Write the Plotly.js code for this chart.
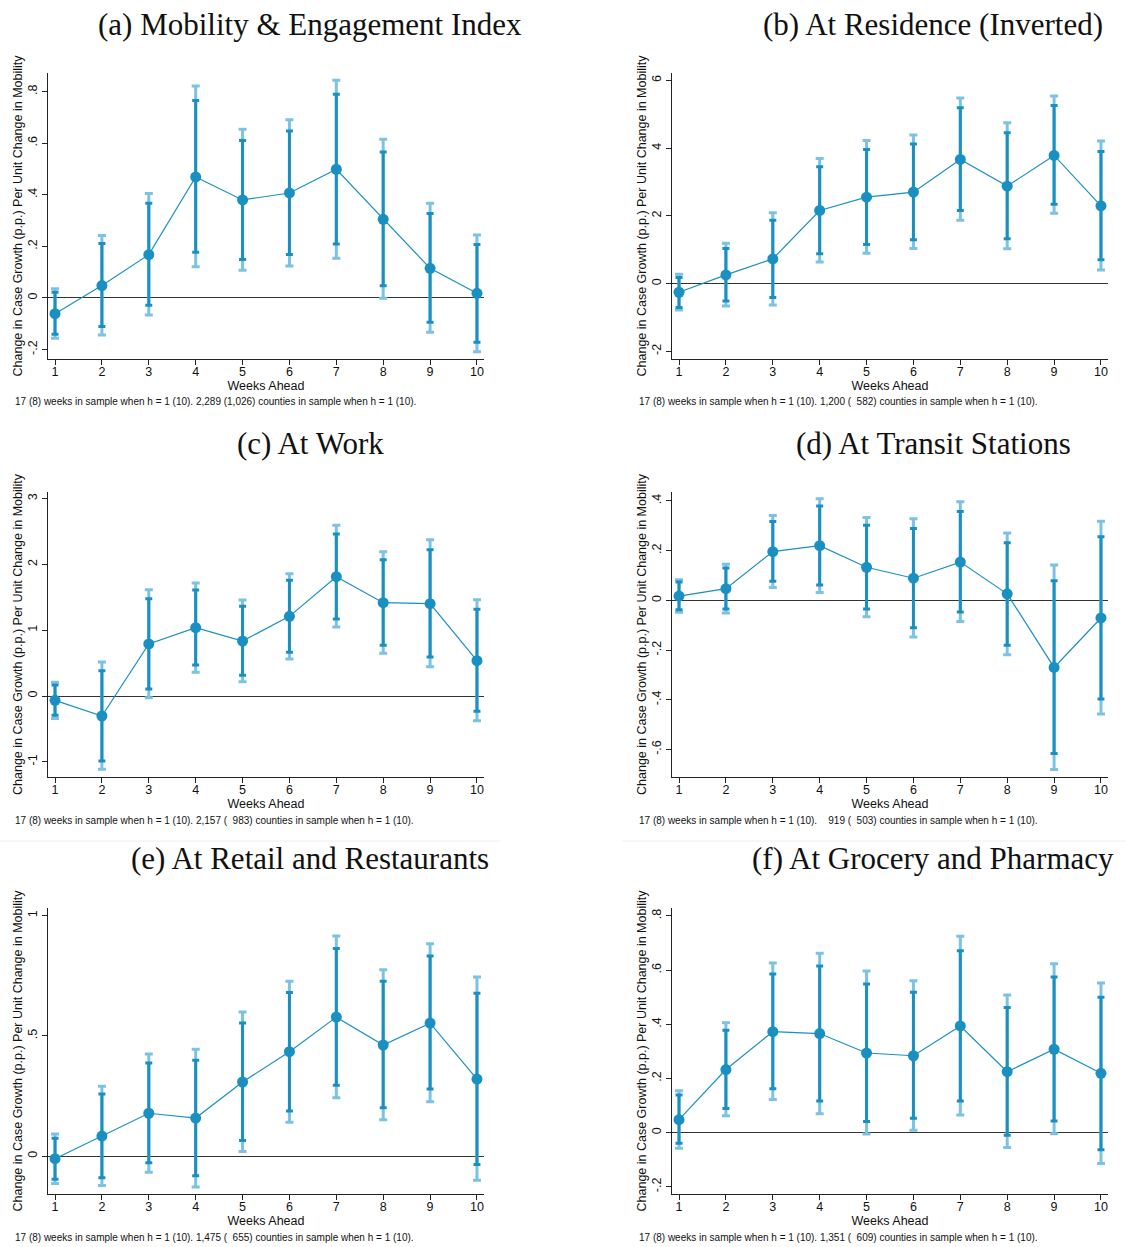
<!DOCTYPE html>
<html>
<head>
<meta charset="utf-8">
<script src="https://cdn.plot.ly/plotly-3.0.1.min.js"></script>
<style>
html,body{margin:0;padding:0;background:#fff;}
#chart{width:1126px;height:1247px;}
</style>
</head>
<body>
<div id="chart"></div>
<script>
// ---------- DATA ----------
const weeks = [1, 2, 3, 4, 5, 6, 7, 8, 9, 10];

// (a) Mobility & Engagement Index
const aCoef = [-0.061, 0.048, 0.168, 0.469, 0.380, 0.407, 0.499, 0.305, 0.115, 0.018];
const aLo90 = [-0.141, -0.111, -0.028, 0.177, 0.149, 0.169, 0.209, 0.047, -0.094, -0.172];
const aHi90 = [0.022, 0.211, 0.367, 0.765, 0.610, 0.647, 0.790, 0.566, 0.327, 0.207];
const aLo95 = [-0.156, -0.143, -0.066, 0.121, 0.107, 0.124, 0.154, -0.001, -0.133, -0.208];
const aHi95 = [0.036, 0.242, 0.405, 0.822, 0.654, 0.691, 0.844, 0.615, 0.367, 0.244];

// (b) At Residence (Inverted)
const bCoef = [-0.256, 0.256, 0.729, 2.158, 2.552, 2.700, 3.665, 2.877, 3.783, 2.296];
const bLo90 = [-0.709, -0.512, -0.414, 0.877, 1.153, 1.291, 2.158, 1.320, 2.345, 0.700];
const bHi90 = [0.177, 1.034, 1.872, 3.448, 3.961, 4.118, 5.192, 4.453, 5.261, 3.901];
const bLo95 = [-0.778, -0.660, -0.631, 0.640, 0.897, 1.034, 1.872, 1.025, 2.079, 0.404];
const bHi95 = [0.276, 1.192, 2.089, 3.695, 4.227, 4.384, 5.478, 4.749, 5.537, 4.207];

// (c) At Work
const cCoef = [-0.066, -0.304, 0.791, 1.039, 0.836, 1.211, 1.814, 1.419, 1.404, 0.537];
const cLo90 = [-0.294, -0.988, 0.106, 0.471, 0.314, 0.664, 1.171, 0.770, 0.593, -0.233];
const cHi90 = [0.167, 0.385, 1.480, 1.611, 1.363, 1.758, 2.463, 2.073, 2.225, 1.318];
const cLo95 = [-0.340, -1.115, -0.025, 0.360, 0.218, 0.563, 1.049, 0.649, 0.446, -0.375];
const cHi95 = [0.208, 0.517, 1.617, 1.718, 1.459, 1.860, 2.595, 2.194, 2.377, 1.465];

// (d) At Transit Stations
const dCoef = [0.017, 0.047, 0.196, 0.220, 0.133, 0.089, 0.154, 0.026, -0.270, -0.071];
const dLo90 = [-0.038, -0.035, 0.077, 0.062, -0.035, -0.110, -0.047, -0.181, -0.616, -0.397];
const dHi90 = [0.074, 0.130, 0.317, 0.380, 0.302, 0.289, 0.358, 0.232, 0.079, 0.256];
const dLo95 = [-0.048, -0.051, 0.052, 0.032, -0.066, -0.148, -0.085, -0.219, -0.681, -0.457];
const dHi95 = [0.083, 0.145, 0.341, 0.409, 0.333, 0.328, 0.397, 0.271, 0.142, 0.318];

// (e) At Retail and Restaurants
const eCoef = [-0.011, 0.083, 0.178, 0.158, 0.308, 0.434, 0.578, 0.462, 0.553, 0.320];
const eLo90 = [-0.097, -0.090, -0.028, -0.082, 0.065, 0.187, 0.294, 0.201, 0.279, -0.035];
const eHi90 = [0.074, 0.258, 0.387, 0.398, 0.553, 0.680, 0.863, 0.727, 0.832, 0.677];
const eLo95 = [-0.114, -0.123, -0.067, -0.129, 0.019, 0.141, 0.243, 0.151, 0.226, -0.101];
const eHi95 = [0.092, 0.290, 0.424, 0.444, 0.599, 0.727, 0.915, 0.775, 0.883, 0.745];

// (f) At Grocery and Pharmacy
const fCoef = [0.048, 0.233, 0.373, 0.366, 0.294, 0.284, 0.394, 0.225, 0.308, 0.219];
const fLo90 = [-0.039, 0.089, 0.162, 0.117, 0.041, 0.053, 0.117, -0.010, 0.043, -0.063];
const fHi90 = [0.139, 0.378, 0.586, 0.615, 0.549, 0.518, 0.672, 0.462, 0.575, 0.500];
const fLo95 = [-0.058, 0.062, 0.122, 0.070, -0.005, 0.009, 0.065, -0.055, -0.004, -0.114];
const fHi95 = [0.155, 0.406, 0.626, 0.662, 0.597, 0.561, 0.725, 0.508, 0.624, 0.553];

// Tick labels
const xTickVals = weeks;
const xTickText = ['1', '2', '3', '4', '5', '6', '7', '8', '9', '10'];
const aYTickVals = [-0.2, 0, 0.2, 0.4, 0.6, 0.8];
const aYTickText = ['-.2', '0', '.2', '.4', '.6', '.8'];
const bYTickVals = [-2, 0, 2, 4, 6];
const bYTickText = ['-2', '0', '2', '4', '6'];
const cYTickVals = [-1, 0, 1, 2, 3];
const cYTickText = ['-1', '0', '1', '2', '3'];
const dYTickVals = [-0.6, -0.4, -0.2, 0, 0.2, 0.4];
const dYTickText = ['-.6', '-.4', '-.2', '0', '.2', '.4'];
const eYTickVals = [0, 0.5, 1];
const eYTickText = ['0', '.5', '1'];
const fYTickVals = [-0.2, 0, 0.2, 0.4, 0.6, 0.8];
const fYTickText = ['-.2', '0', '.2', '.4', '.6', '.8'];

// Text
const panelTitles = [
  '(a) Mobility & Engagement Index',
  '(b) At Residence (Inverted)',
  '(c) At Work',
  '(d) At Transit Stations',
  '(e) At Retail and Restaurants',
  '(f) At Grocery and Pharmacy'
];
const notes = [
  '17 (8) weeks in sample when h = 1 (10). 2,289 (1,026) counties in sample when h = 1 (10).',
  '17 (8) weeks in sample when h = 1 (10). 1,200 (\u00a0\u00a0582) counties in sample when h = 1 (10).',
  '17 (8) weeks in sample when h = 1 (10). 2,157 (\u00a0\u00a0983) counties in sample when h = 1 (10).',
  '17 (8) weeks in sample when h = 1 (10). \u00a0\u00a0\u00a0919 (\u00a0\u00a0503) counties in sample when h = 1 (10).',
  '17 (8) weeks in sample when h = 1 (10). 1,475 (\u00a0\u00a0655) counties in sample when h = 1 (10).',
  '17 (8) weeks in sample when h = 1 (10). 1,351 (\u00a0\u00a0609) counties in sample when h = 1 (10).'
];
const xTitle = 'Weeks Ahead';
const yTitle = 'Change in Case Growth (p.p.) Per Unit Change in Mobility';

// ---------- BUILD ----------
const W = 1126, H = 1247;
const MAIN = '#1a90c2';
const LIGHT = '#7cc2e1';
const sans = '"Liberation Sans", Arial, sans-serif';
const serif = '"Liberation Serif", "Times New Roman", serif';

const series = [
  {coef: aCoef, lo90: aLo90, hi90: aHi90, lo95: aLo95, hi95: aHi95, tv: aYTickVals, tt: aYTickText, range: [-0.2365, 0.872]},
  {coef: bCoef, lo90: bLo90, hi90: bHi90, lo95: bLo95, hi95: bHi95, tv: bYTickVals, tt: bYTickText, range: [-2.227, 6.217]},
  {coef: cCoef, lo90: cLo90, hi90: cHi90, lo95: cLo95, hi95: cHi95, tv: cYTickVals, tt: cYTickText, range: [-1.231, 3.101]},
  {coef: dCoef, lo90: dLo90, hi90: dHi90, lo95: dLo95, hi95: dHi95, tv: dYTickVals, tt: dYTickText, range: [-0.711, 0.436]},
  {coef: eCoef, lo90: eLo90, hi90: eHi90, lo95: eLo95, hi95: eHi95, tv: eYTickVals, tt: eYTickText, range: [-0.158, 1.032]},
  {coef: fCoef, lo90: fLo90, hi90: fHi90, lo95: fLo95, hi95: fHi95, tv: fYTickVals, tt: fYTickText, range: [-0.2265, 0.8295]}
];

const colsPx = [[48, 484], [672, 1108]];
const rowsPx = [[73, 359], [492, 777], [908, 1194]];
const titleCx = [310, 933];
const noteX = [13, 637];

const traces = [];
const layout = {
  width: W, height: H,
  margin: {l: 0, r: 0, t: 0, b: 0, pad: 0},
  paper_bgcolor: '#ffffff',
  plot_bgcolor: '#ffffff',
  showlegend: false,
  hovermode: false,
  annotations: [],
  shapes: [
    {type: 'line', xref: 'paper', yref: 'paper', x0: 0, x1: 500 / W, y0: 1 - 841 / H, y1: 1 - 841 / H, line: {color: '#eeeeee', width: 1}},
    {type: 'line', xref: 'paper', yref: 'paper', x0: 622 / W, x1: 1, y0: 1 - 841 / H, y1: 1 - 841 / H, line: {color: '#eeeeee', width: 1}}
  ]
};

series.forEach((s, i) => {
  const col = i % 2, row = Math.floor(i / 2);
  const n = i + 1;
  const xa = n === 1 ? 'x' : 'x' + n;
  const ya = n === 1 ? 'y' : 'y' + n;
  const xk = n === 1 ? 'xaxis' : 'xaxis' + n;
  const yk = n === 1 ? 'yaxis' : 'yaxis' + n;
  const [x0, x1] = colsPx[col];
  const [y0, y1] = rowsPx[row];

  const up95 = s.hi95.map((v, k) => v - s.coef[k]);
  const dn95 = s.lo95.map((v, k) => s.coef[k] - v);
  const up90 = s.hi90.map((v, k) => v - s.coef[k]);
  const dn90 = s.lo90.map((v, k) => s.coef[k] - v);

  traces.push({
    type: 'scatter', mode: 'markers', x: weeks, y: s.coef, xaxis: xa, yaxis: ya,
    marker: {size: 2, color: 'rgba(0,0,0,0)'},
    error_y: {type: 'data', symmetric: false, array: up95, arrayminus: dn95, color: LIGHT, thickness: 3, width: 4}
  });
  traces.push({
    type: 'scatter', mode: 'markers', x: weeks, y: s.coef, xaxis: xa, yaxis: ya,
    marker: {size: 2, color: 'rgba(0,0,0,0)'},
    error_y: {type: 'data', symmetric: false, array: up90, arrayminus: dn90, color: MAIN, thickness: 3, width: 3.5}
  });
  traces.push({
    type: 'scatter', mode: 'lines+markers', x: weeks, y: s.coef, xaxis: xa, yaxis: ya,
    line: {color: MAIN, width: 1.2},
    marker: {size: 11, color: MAIN}
  });

  layout[xk] = {
    domain: [x0 / W, x1 / W],
    anchor: ya,
    range: [0.85, 10.15],
    tickmode: 'array', tickvals: xTickVals, ticktext: xTickText,
    ticks: 'outside', ticklen: 5, tickwidth: 1, tickcolor: '#222',
    ticklabelstandoff: -4,
    showline: true, linecolor: '#222', linewidth: 1,
    showgrid: false, zeroline: false,
    tickfont: {family: sans, size: 12.5, color: '#111'},
    title: {text: xTitle, font: {family: sans, size: 12.5, color: '#111'}, standoff: 2},
    fixedrange: true
  };
  layout[yk] = {
    domain: [1 - y1 / H, 1 - y0 / H],
    anchor: xa,
    range: s.range,
    tickmode: 'array', tickvals: s.tv, ticktext: s.tt,
    tickangle: -90,
    ticks: 'outside', ticklen: 5, tickwidth: 1, tickcolor: '#222',
    showline: true, linecolor: '#222', linewidth: 1,
    showgrid: false,
    zeroline: true, zerolinecolor: '#333', zerolinewidth: 1,
    tickfont: {family: sans, size: 12.5, color: '#111'},
    title: {text: yTitle, font: {family: sans, size: 12.5, color: '#111'}, standoff: 0},
    fixedrange: true
  };

  layout.annotations.push({
    xref: 'paper', yref: 'paper', x: titleCx[col] / W, y: 1 - (y0 - 49) / H,
    xanchor: 'center', yanchor: 'middle', showarrow: false,
    text: panelTitles[i], font: {family: serif, size: 31, color: '#111'}
  });
  layout.annotations.push({
    xref: 'paper', yref: 'paper', x: noteX[col] / W, y: 1 - (y1 + 43) / H,
    xanchor: 'left', yanchor: 'middle', showarrow: false,
    text: notes[i], font: {family: sans, size: 10, color: '#111'}
  });
});

Plotly.newPlot('chart', traces, layout, {staticPlot: true, displayModeBar: false});
</script>
</body>
</html>
